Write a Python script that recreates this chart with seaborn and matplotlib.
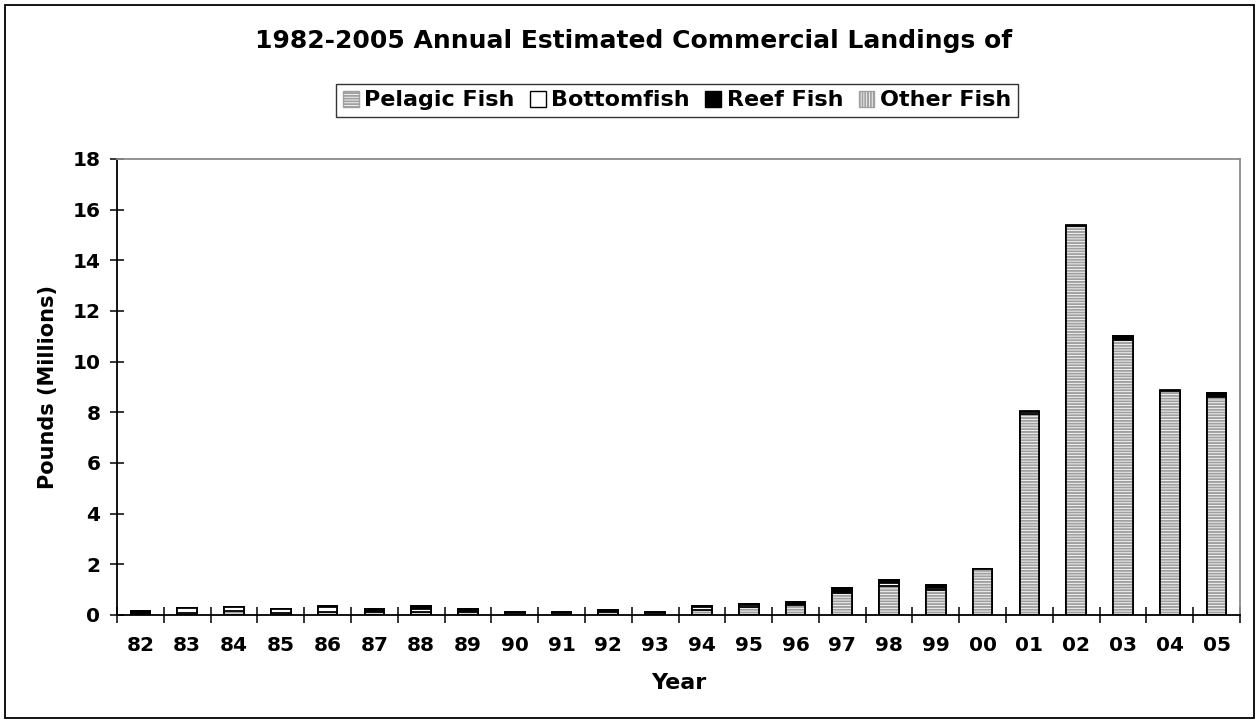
import numpy as np
import matplotlib
matplotlib.use("Agg")
import matplotlib.pyplot as plt
import seaborn as sns
from matplotlib.patches import Rectangle, Patch
from matplotlib.ticker import FixedLocator, MultipleLocator

years = ["82", "83", "84", "85", "86", "87", "88", "89", "90", "91", "92", "93",
         "94", "95", "96", "97", "98", "99", "00", "01", "02", "03", "04", "05"]
pelagic = [0.04, 0.06, 0.14, 0.08, 0.10, 0.10, 0.12, 0.10, 0.06, 0.06, 0.12, 0.06,
           0.20, 0.30, 0.38, 0.85, 1.15, 1.00, 1.82, 7.92, 15.35, 10.85, 8.85, 8.60]
bottomfish = [0.03, 0.20, 0.17, 0.15, 0.22, 0.05, 0.10, 0.05, 0.02, 0.02, 0.05, 0.02,
              0.12, 0.10, 0.03, 0.05, 0.10, 0.08, 0.00, 0.10, 0.00, 0.00, 0.00, 0.00]
reef = [0.10, 0.01, 0.02, 0.02, 0.02, 0.10, 0.12, 0.10, 0.02, 0.02, 0.02, 0.02,
        0.02, 0.02, 0.10, 0.15, 0.15, 0.12, 0.00, 0.00, 0.00, 0.15, 0.00, 0.15]
other = [0.00, 0.00, 0.00, 0.00, 0.00, 0.00, 0.00, 0.00, 0.00, 0.00, 0.00, 0.00,
         0.00, 0.00, 0.00, 0.00, 0.00, 0.00, 0.00, 0.03, 0.05, 0.00, 0.02, 0.00]
series_names = ["Pelagic Fish", "Bottomfish", "Reef Fish", "Other Fish"]

sns.set_theme(style="white")
plt.rcParams['font.family'] = ['DejaVu Sans']
plt.rcParams['hatch.linewidth'] = 1.4
plt.rcParams['text.color'] = 'black'

fig = plt.figure(figsize=(12.6, 7.23), dpi=100)
ax = fig.add_axes([117 / 1260, 1 - 615 / 723, (1240 - 117) / 1260, (615 - 159) / 723])

p = np.array(pelagic)
b = np.array(bottomfish)
r = np.array(reef)
o = np.array(other)

HATCH_GRAY = '#a0a0a0'
BW = 0.42


def draw(vals, face, hatch=None, hatch_color=None):
    if hatch:
        sns.barplot(x=years, y=vals, ax=ax, width=BW, color='white', saturation=1,
                    hatch=hatch, edgecolor=hatch_color, linewidth=0)
        sns.barplot(x=years, y=vals, ax=ax, width=BW, fill=False, color='black',
                    linewidth=1.3)
        for patch in ax.containers[-1]:
            patch.set_edgecolor('black')
            patch.set_facecolor('none')
    else:
        sns.barplot(x=years, y=vals, ax=ax, width=BW, color=face, saturation=1,
                    edgecolor='black', linewidth=1.3)


draw(p + b + r + o, 'white', hatch='||||||', hatch_color=HATCH_GRAY)
draw(p + b + r, 'black')
draw(p + b, 'white')
draw(p, 'white', hatch='------', hatch_color=HATCH_GRAY)

TICK_FS = 14.5
ax.set_xlim(-0.5, len(years) - 0.5)
ax.set_ylim(0, 18)
ax.yaxis.set_major_locator(MultipleLocator(2))
ax.set_xticks(range(len(years)))
ax.set_xticklabels(years)
ax.xaxis.set_minor_locator(FixedLocator(np.arange(-0.5, len(years), 1.0)))
ax.tick_params(axis='x', which='major', length=0, pad=15, labelsize=TICK_FS)
ax.tick_params(axis='x', which='minor', direction='inout', length=12, width=1.1,
               color='black', bottom=True)
ax.tick_params(axis='y', which='major', direction='inout', length=10, width=1.1,
               color='black', left=True, pad=7, labelsize=TICK_FS)
for lab in ax.get_xticklabels() + ax.get_yticklabels():
    lab.set_fontweight('bold')
    lab.set_color('black')

for side in ['left', 'bottom']:
    ax.spines[side].set_color('black')
    ax.spines[side].set_linewidth(1.3)
for side in ['top', 'right']:
    ax.spines[side].set_color('#8a8a8a')
    ax.spines[side].set_linewidth(1.3)

ax.set_xlabel("Year", fontsize=16, fontweight='bold', color='black', labelpad=13)
ax.set_ylabel("Pounds (Millions)", fontsize=15, fontweight='bold', color='black',
              labelpad=10)

fig.text(634 / 1260, 1 - 41 / 723, "1982-2005 Annual Estimated Commercial Landings of",
         ha='center', va='center', fontsize=18, fontweight='bold', color='black')

handles = [
    Patch(facecolor='white', edgecolor=HATCH_GRAY, hatch='------'),
    Patch(facecolor='white', edgecolor='black'),
    Patch(facecolor='black', edgecolor='black'),
    Patch(facecolor='white', edgecolor=HATCH_GRAY, hatch='||||||'),
]
leg = fig.legend(handles, series_names, loc='center',
                 bbox_to_anchor=(677 / 1260, 1 - 100.5 / 723), ncol=4,
                 frameon=True, fancybox=False, edgecolor='black',
                 prop={'weight': 'bold', 'size': 16}, handlelength=0.7,
                 handleheight=0.7, handletextpad=0.25, columnspacing=0.7,
                 borderpad=0.3, borderaxespad=0)
leg.get_frame().set_linewidth(1.0)
for t in leg.get_texts():
    t.set_color('black')

fig.add_artist(Rectangle((5 / 1260, 5 / 723), 1249 / 1260, 713 / 723,
                         transform=fig.transFigure, fill=False,
                         edgecolor='black', linewidth=1.3))

fig.savefig("out.png", dpi=100)
